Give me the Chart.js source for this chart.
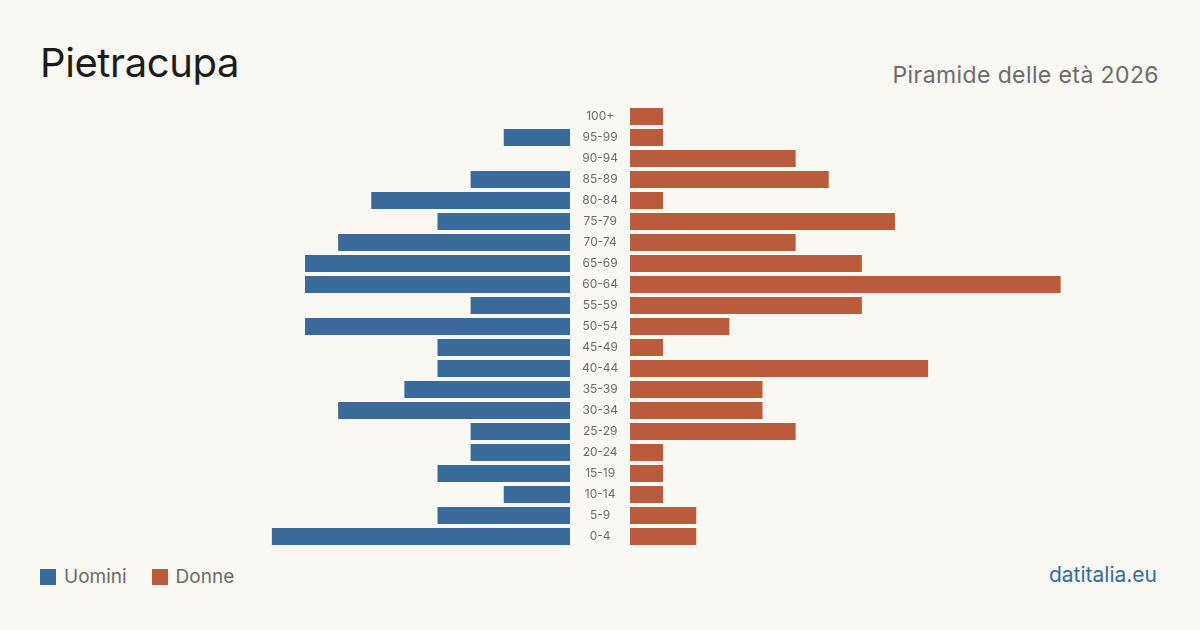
<!DOCTYPE html>
<html lang="it">
<head>
<meta charset="utf-8">
<title>Pietracupa — Piramide delle età 2026</title>
<script src="https://cdn.jsdelivr.net/npm/chart.js@4/dist/chart.umd.min.js"></script>
<style>
  html, body { margin: 0; padding: 0; }
  body { width: 1200px; height: 630px; background: #f9f8f3; font-family: Inter, 'Noto Sans', sans-serif; position: relative; overflow: hidden; }
  .title { position: absolute; left: 40px; top: 38px; font-size: 40px; color: #1c1c1c; letter-spacing: -0.4px; }
  .subtitle { position: absolute; right: 41px; top: 61px; font-size: 23px; color: #6b6b6b; letter-spacing: 0.4px; }
  .box { position: absolute; top: 106px; height: 441px; }
  #box-m { left: 40px; width: 590px; }
  #box-f { left: 630px; width: 530px; }
  .legend { position: absolute; left: 40px; top: 565px; font-size: 19px; color: #6b6b6b; display: flex; align-items: center; }
  .legend span.sw { display: inline-block; width: 16px; height: 16px; margin-right: 8px; }
  .legend .item { display: flex; align-items: center; margin-right: 25px; }
  .brand { position: absolute; right: 43px; top: 562px; font-size: 21px; color: #3a6a9a; }
</style>
</head>
<body>
<div class="title">Pietracupa</div>
<div class="subtitle">Piramide delle età 2026</div>
<div class="box" id="box-m"><canvas id="chart-m"></canvas></div>
<div class="box" id="box-f"><canvas id="chart-f"></canvas></div>
<div class="legend">
  <div class="item"><span class="sw" style="background:#3a6a9a"></span>Uomini</div>
  <div class="item"><span class="sw" style="background:#b95c3b"></span>Donne</div>
</div>
<div class="brand">datitalia.eu</div>
<script>
// classi d'età dall'alto verso il basso
const fasce  = ['100+', '95-99', '90-94', '85-89', '80-84', '75-79', '70-74', '65-69', '60-64', '55-59', '50-54',
                '45-49', '40-44', '35-39', '30-34', '25-29', '20-24', '15-19', '10-14', '5-9', '0-4'];
const uomini = [0, 2, 0, 3, 6, 4, 7, 8, 8, 3, 8, 4, 4, 5, 7, 3, 3, 4, 2, 4, 9];
const donne  = [1, 1, 5, 6, 1, 8, 5, 7, 13, 7, 3, 1, 9, 4, 4, 5, 1, 1, 1, 2, 2];
const maxX   = 16;

const BLU = '#3a6a9a', ROSSO = '#b95c3b';

const baseOpts = (reverse, showLabels) => ({
    indexAxis: 'y',
    responsive: true, maintainAspectRatio: false, animation: false,
    layout: { padding: 0 },
    plugins: { legend: { display: false }, tooltip: { enabled: false } },
    scales: {
        x: { display: false, min: 0, max: maxX, reverse: reverse },
        y: {
            display: showLabels,
            position: 'right',
            grid: { display: false, drawTicks: false },
            border: { display: false },
            ticks: {
                color: '#6b6b6b', crossAlign: 'center', padding: 12,
                font: { family: 'Inter', size: 12 }
            },
            // etichette al centro, senza margini extra in alto/basso
            afterFit: showLabels ? (s) => { s.width = 60; s.paddingTop = 0; s.paddingBottom = 0; } : undefined
        }
    }
});

const dataset = (label, data, color) => ({
    label, data, backgroundColor: color, barThickness: 17, borderWidth: 0, inflateAmount: 0
});

new Chart(document.getElementById('chart-m'), {
    type: 'bar',
    data: { labels: fasce, datasets: [dataset('Uomini', uomini, BLU)] },
    options: baseOpts(true, true)
});

new Chart(document.getElementById('chart-f'), {
    type: 'bar',
    data: { labels: fasce, datasets: [dataset('Donne', donne, ROSSO)] },
    options: baseOpts(false, false)
});
</script>
</body>
</html>
